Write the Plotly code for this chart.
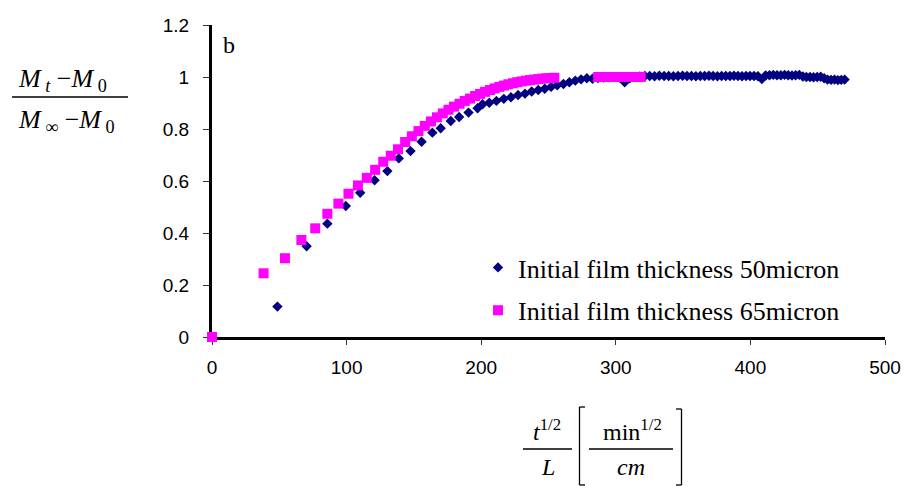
import plotly.graph_objects as go

# ---------------- data ----------------
series_names = ["Initial film thickness 50micron", "Initial film thickness 65micron"]

x_50 = [0, 48.6, 70.3, 85.7, 99.4, 110.1, 120.8, 130.3, 138.8, 147.5, 155.7, 163.7, 169.9,
        177.4, 183.6, 190.6, 197.3, 201.0, 206.0,
        211.3, 216.8, 222.1, 227.4, 232.5, 237.5, 242.4, 247.2, 251.9, 256.5, 261.1, 265.5,
        269.9, 274.2, 278.5, 282.7, 286.8, 290.9, 294.9, 298.8, 302.7, 306.6, 310.4, 314.2,
        317.9, 321.6, 325.2, 328.8, 332.3, 335.9, 339.3, 342.8, 346.2, 349.6, 352.9, 356.2,
        359.5, 362.8, 366.0, 369.2, 372.3, 375.5, 378.6, 381.7, 384.8, 387.8, 390.8, 393.8,
        396.8, 399.7, 402.7, 405.6, 408.5, 411.3, 414.2, 417.0, 419.8, 422.6, 425.4, 428.1,
        430.9, 433.6, 436.3, 439.0, 441.6, 444.3, 446.9, 449.6, 452.2, 454.8, 457.3, 459.9,
        462.5, 465.0, 467.5, 470.0]
y_50 = [0, 0.117, 0.349, 0.436, 0.504, 0.555, 0.603, 0.638, 0.687, 0.715, 0.751, 0.786, 0.803,
        0.831, 0.846, 0.863, 0.880, 0.895, 0.901,
        0.908, 0.916, 0.922, 0.931, 0.936, 0.944, 0.950, 0.955, 0.962, 0.968, 0.973, 0.980,
        0.986, 0.991, 0.995, 0.993, 0.996, 0.998, 0.999, 1.000, 0.998, 0.980, 0.995, 1.000,
        1.002, 1.004,
        1.004, 1.003, 1.005, 1.004, 1.004, 1.003, 1.004, 1.005, 1.004, 1.004, 1.003, 1.004, 1.004,
        1.005, 1.004, 1.003, 1.004, 1.004, 1.004, 1.005, 1.004, 1.003, 1.004, 1.004, 1.004, 1.003,
        0.992,
        1.006, 1.007, 1.008, 1.007, 1.007, 1.008, 1.007, 1.006, 1.007, 1.008,
        1.002, 1.000, 1.000, 0.999, 1.000, 1.001,
        0.995, 0.990, 0.989, 0.990, 0.988, 0.989, 0.990]

x_65 = [0, 38.3, 54.2, 66.4, 76.7, 85.7, 93.9, 101.4, 108.4, 115.0, 121.2, 127.2, 132.8, 138.2,
        143.5, 148.5, 153.4, 158.1, 162.7, 167.1, 171.5, 175.7, 179.8, 183.9, 187.8, 191.7,
        195.5, 199.2, 202.9, 206.5, 210.0, 213.5, 216.9, 220.2, 223.6, 226.8, 230.0, 233.2,
        236.3, 239.4, 242.5, 245.5, 248.5, 251.4, 254.3,
        286.9, 289.5, 292.0, 294.5, 297.0, 299.5, 301.9, 304.3, 306.7, 309.1, 311.5, 313.8,
        316.2, 318.5]
y_65 = [0, 0.245, 0.303, 0.373, 0.418, 0.474, 0.513, 0.551, 0.583, 0.612, 0.643, 0.674, 0.697,
        0.722, 0.750, 0.772, 0.792, 0.812, 0.829, 0.845, 0.860, 0.874, 0.886, 0.897, 0.908,
        0.917, 0.927, 0.935, 0.943, 0.950, 0.956, 0.962, 0.967, 0.972, 0.976, 0.980, 0.983,
        0.986, 0.988, 0.990, 0.992, 0.994, 0.995, 0.996, 0.997,
        1.0, 1.0, 1.0, 1.0, 1.0, 1.0, 1.0, 1.0, 1.0, 1.0, 1.0, 1.0, 1.0, 1.0]

x_ticks = [0, 100, 200, 300, 400, 500]
y_ticks = [0, 0.2, 0.4, 0.6, 0.8, 1, 1.2]

assert len(x_50) == len(y_50)
assert len(x_65) == len(y_65)

# ---------------- layout helpers (pixel -> paper) ----------------
W, H = 904, 486
ML, MR, MT, MB = 212, 19, 25, 149
PW, PH = W - ML - MR, H - MT - MB


def fx(p):
    return (p - ML) / PW


def fy(p):
    return (H - MB - p) / PH


SERIF = "Liberation Serif, Times New Roman, serif"
SANS = "Liberation Sans, Arial, sans-serif"

fig = go.Figure()
fig.add_trace(go.Scatter(
    x=x_50, y=y_50, mode="markers", name=series_names[0], legendgroup="a",
    marker=dict(symbol="diamond", size=8, color="#000080", line=dict(width=0)),
    cliponaxis=False))
fig.add_trace(go.Scatter(
    x=x_65, y=y_65, mode="markers", name=series_names[1], legendgroup="b",
    marker=dict(symbol="square", size=10, color="#FF00FF", line=dict(width=0)),
    cliponaxis=False))

ann = []


def text(s, xp, yp, size, family=SERIF):
    ann.append(dict(text=s, x=fx(xp), y=fy(yp), xref="paper", yref="paper",
                    xanchor="center", yanchor="middle", showarrow=False,
                    font=dict(family=family, size=size, color="black")))


# y-axis title (fraction)
text("<i>M</i><sub><i> t</i></sub> −<i>M</i><sub> 0</sub>", 62, 80, 26)
text("<i>M</i><sub> ∞</sub> −<i>M</i><sub> 0</sub>", 66, 121, 26)
# x-axis title
text("<i>t</i><sup>1/2</sup>", 547, 430, 24)
text("<i>L</i>", 548, 467, 24)
text("min<sup>1/2</sup>", 632, 430, 24)
text("<i>cm</i>", 631, 467, 24)
# panel label
text("b", 229, 45, 24)

shapes = []


def line(x0, y0, x1, y1, w=1.3):
    shapes.append(dict(type="line", xref="paper", yref="paper",
                       x0=fx(x0), y0=fy(y0), x1=fx(x1), y1=fy(y1),
                       line=dict(color="black", width=w)))


line(12, 97, 128, 97, 1.5)
line(523, 449, 572, 449)
line(589, 449, 673, 449)
# left bracket
line(579.5, 407, 579.5, 485)
line(579.5, 407, 585, 407)
line(579.5, 485, 585, 485)
# right bracket
line(681.5, 409, 681.5, 485)
line(676, 409, 681.5, 409)
line(676, 485, 681.5, 485)

fig.update_layout(
    width=W, height=H,
    margin=dict(l=ML, r=MR, t=MT, b=MB, pad=0, autoexpand=False),
    paper_bgcolor="white", plot_bgcolor="white",
    font=dict(family=SANS, size=19, color="black"),
    showlegend=True,
    legend=dict(x=fx(478), y=fy(244), xanchor="left", yanchor="top",
                font=dict(family=SERIF, size=26, color="black"),
                bgcolor="rgba(0,0,0,0)", borderwidth=0, tracegroupgap=6,
                itemwidth=30),
    annotations=ann, shapes=shapes,
    xaxis=dict(range=[0, 500], tickvals=x_ticks, showgrid=False, zeroline=False,
               showline=True, linecolor="black", linewidth=3, ticks="outside",
               ticklen=5, tickwidth=1, tickcolor="#333", layer="below traces",
               tickfont=dict(family=SANS, size=19), ticklabelstandoff=6,
               automargin=False),
    yaxis=dict(range=[0, 1.2], tickvals=y_ticks, showgrid=False, zeroline=False,
               showline=True, linecolor="black", linewidth=3, ticks="outside",
               ticklen=6, tickwidth=1, tickcolor="#333", layer="below traces",
               tickfont=dict(family=SANS, size=19), ticklabelstandoff=10,
               automargin=False),
)

fig.write_html("out.html", config={"displayModeBar": False},
               post_script="document.body.style.margin='0';document.body.style.padding='0';document.body.style.overflow='hidden';")
